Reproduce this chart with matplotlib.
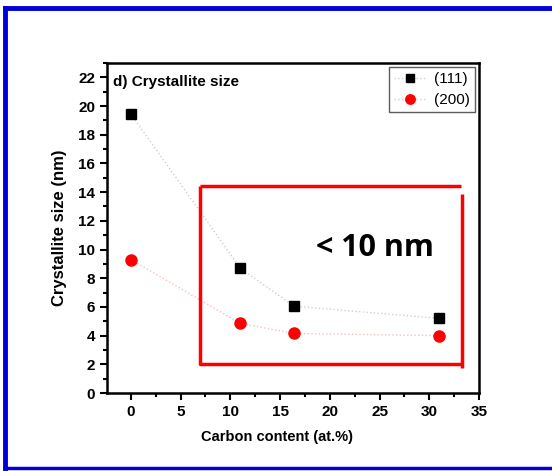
import matplotlib.pyplot as plt
from matplotlib.lines import Line2D
from matplotlib.ticker import MultipleLocator

plt.rcParams['font.family'] = ['Liberation Sans', 'DejaVu Sans']

# crystallite size vs carbon content
carbon = [0, 11, 16.4, 31]
size_111 = [19.45, 8.7, 6.05, 5.2]
size_200 = [9.3, 4.85, 4.15, 4.0]

fig = plt.figure(figsize=(5.52, 4.71), dpi=100)
ax = fig.add_axes([0.1938, 0.1656, 0.674, 0.7006])

ax.plot(carbon, size_111, ls=':', lw=1, color='#d0d0d0', marker='s', ms=7,
        mfc='black', mec='black', label='(111)')
ax.plot(carbon, size_200, ls=':', lw=1, color='#f5c0c0', marker='o', ms=8,
        mfc='red', mec='red', label='(200)')

# highlight box for the small-grain region
ax.plot([6.95, 6.95, 33.3], [14.4, 2.0, 2.0], color='red', lw=2.5, solid_capstyle='butt')
ax.plot([6.95, 33.2], [14.4, 14.4], color='red', lw=2.5, solid_capstyle='butt')
ax.plot([33.3, 33.3], [1.75, 13.9], color='red', lw=2.5, solid_capstyle='butt')
ax.text(24.5, 10.1, '< 10 nm', ha='center', va='center', fontsize=22,
        fontweight='bold', family=['Open Sans', 'DejaVu Sans'])

ax.set_xlim(-2.4, 35)
ax.set_ylim(0, 23)
ax.xaxis.set_major_locator(MultipleLocator(5))
ax.xaxis.set_minor_locator(MultipleLocator(2.5))
ax.yaxis.set_major_locator(MultipleLocator(2))
ax.yaxis.set_minor_locator(MultipleLocator(1))
ax.tick_params(which='both', direction='out', width=1.5)
ax.tick_params(which='major', length=5, labelsize=11)
ax.tick_params(which='minor', length=3)
for lab in ax.get_xticklabels() + ax.get_yticklabels():
    lab.set_fontweight('bold')
for sp in ax.spines.values():
    sp.set_linewidth(1.8)

ax.set_xlabel('Carbon content (at.%)', fontsize=10.5, fontweight='bold')
ax.xaxis.set_label_coords(0.457, -0.112)
ax.set_ylabel('Crystallite size (nm)', fontsize=12, fontweight='bold', labelpad=8)
ax.text(0.016, 0.965, 'd) Crystallite size', transform=ax.transAxes, ha='left',
        va='top', fontsize=11, fontweight='bold')

leg = ax.legend(loc='upper right', fontsize=11, frameon=True, fancybox=False,
                edgecolor='#333333', borderaxespad=0.25, handlelength=2.0,
                handletextpad=0.6, borderpad=0.35, labelspacing=0.45,
                markerscale=0.85)
leg.get_frame().set_linewidth(1)

# blue frame around the figure
blue = '#0000dd'
fig.add_artist(Line2D([5.5 / 552, 5.5 / 552], [1 - 468 / 471, 1 - 8 / 471], color=blue, lw=3.5))
fig.add_artist(Line2D([5.5 / 552, 1], [1 - 8 / 471, 1 - 8 / 471], color=blue, lw=3.5))
fig.add_artist(Line2D([5.5 / 552, 1], [1 - 468 / 471, 1 - 468 / 471], color=blue, lw=2.5))

fig.savefig('out.png', dpi=100)
